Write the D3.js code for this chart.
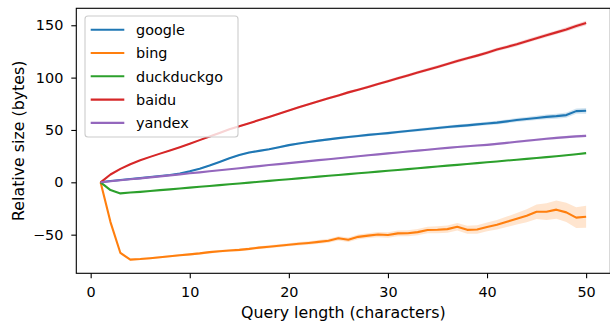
<!DOCTYPE html>
<html>
<head>
<meta charset="utf-8">
<script src="https://cdn.jsdelivr.net/npm/d3@7"></script>
<style>
  html, body { margin: 0; padding: 0; background: #fff; }
  svg { display: block; font-family: "DejaVu Sans", sans-serif; }
</style>
</head>
<body>
<svg id="chart" width="610" height="322"></svg>
<script>
const queryLength = d3.range(1, 51);
const seriesNames = ["google", "bing", "duckduckgo", "baidu", "yandex"];
const seriesColors = ["#1f77b4", "#ff7f0e", "#2ca02c", "#d62728", "#9467bd"];

const google = [0, 1.2, 2.2, 3.1, 4, 5, 6, 7, 8.3, 10.5, 13, 16, 19.5, 23, 26, 28.5, 30, 31.5, 33.5, 35.5,
  37, 38.5, 39.8, 41, 42.2, 43.3, 44.3, 45.3, 46.2, 47, 48, 49, 50, 50.9, 51.9, 52.8, 53.7, 54.4, 55.3, 56.2,
  57, 58.2, 59.5, 60.5, 61.5, 62.5, 63.2, 64.2, 68, 68.3];
const bing = [0, -38, -67.5, -73.8, -73.3, -72.5, -71.5, -70.6, -69.6, -68.8, -67.9, -66.7, -65.8, -65.1, -64.5, -63.6, -62.4, -61.5, -60.6, -59.6,
  -58.7, -57.9, -56.9, -55.8, -53.5, -54.9, -52.1, -50.9, -49.9, -50.3, -48.8, -48.6, -47.6, -45.6, -45.3, -44.7, -42.5, -45.4, -45.1, -42.6,
  -40.6, -37.7, -34.8, -31.9, -28.1, -28.1, -26.1, -28.7, -33.7, -32.9];
const duckduckgo = [0, -7.4, -10.6, -9.8, -9.1, -8.3, -7.5, -6.7, -5.9, -5.1, -4.3, -3.5, -2.7, -1.9, -1.1, -0.3, 0.5, 1.4, 2.2, 3.0,
  3.8, 4.6, 5.4, 6.2, 7.0, 7.8, 8.6, 9.4, 10.2, 11.0, 11.8, 12.6, 13.4, 14.3, 15.1, 15.9, 16.7, 17.5, 18.3, 19.1,
  19.9, 20.8, 21.6, 22.4, 23.2, 24.1, 24.9, 25.8, 26.8, 27.9];
const baidu = [0, 7.5, 12.8, 17.3, 21, 24.3, 27.4, 30.4, 33.6, 36.9, 40.3, 43.7, 47.2, 50.6, 53.6, 56.5, 59.4, 62.4, 65.5, 68.6,
  71.6, 74.5, 77.5, 80.3, 83.0, 85.9, 88.5, 91.1, 93.9, 96.6, 99.4, 102.1, 104.9, 107.6, 110.2, 113.0, 115.9, 118.4, 121.0, 123.8,
  126.8, 129.3, 131.8, 134.8, 137.7, 140.5, 143.2, 146.0, 149.2, 152.1];
const yandex = [0, 1, 2, 2.9, 3.8, 4.7, 5.7, 6.6, 7.6, 8.6, 9.5, 10.5, 11.5, 12.5, 13.5, 14.5, 15.5, 16.5, 17.4, 18.3,
  19.3, 20.2, 21.2, 22.1, 23.0, 24.0, 24.9, 25.8, 26.7, 27.6, 28.5, 29.4, 30.3, 31.1, 32.0, 32.9, 33.7, 34.4, 35.1, 35.8,
  36.7, 37.7, 38.7, 39.7, 40.6, 41.6, 42.4, 43.2, 43.9, 44.4];

// confidence band half-widths
const googleCI = [0, 0.3, 0.3, 0.3, 0.3, 0.4, 0.4, 0.4, 0.5, 0.5, 0.6, 0.7, 0.7, 0.8, 0.8, 0.9, 0.9, 0.9, 1, 1,
  1, 1, 1.1, 1.1, 1.1, 1.2, 1.2, 1.2, 1.2, 1.3, 1.3, 1.3, 1.4, 1.4, 1.4, 1.5, 1.5, 1.5, 1.6, 1.6,
  1.7, 1.8, 1.9, 2, 2.1, 2.3, 2.4, 2.5, 2.6, 2.7];
const bingCI = [0, 0.8, 0.9, 0.9, 1, 1, 1, 1, 1.1, 1.1, 1.1, 1.2, 1.2, 1.2, 1.3, 1.3, 1.4, 1.4, 1.5, 1.5,
  1.6, 1.7, 1.8, 1.9, 2, 2.1, 2.2, 2.3, 2.5, 2.6, 2.7, 2.8, 3, 3.1, 3.3, 3.4, 3.6, 3.8, 4, 4.2,
  4.5, 5, 5.5, 6.2, 7, 8, 8.8, 9.2, 10, 10.5];
const duckduckgoCI = [0, 0.2, 0.2, 0.2, 0.2, 0.2, 0.2, 0.2, 0.3, 0.3, 0.3, 0.3, 0.3, 0.3, 0.3, 0.3, 0.3, 0.3, 0.3, 0.3,
  0.3, 0.3, 0.3, 0.4, 0.4, 0.4, 0.4, 0.4, 0.4, 0.4, 0.4, 0.4, 0.4, 0.4, 0.5, 0.5, 0.5, 0.5, 0.5, 0.5,
  0.5, 0.5, 0.5, 0.5, 0.6, 0.6, 0.6, 0.6, 0.6, 0.6];
const baiduCI = [0, 0.4, 0.5, 0.5, 0.5, 0.6, 0.6, 0.6, 0.7, 0.7, 0.7, 0.8, 0.8, 0.8, 0.9, 0.9, 0.9, 1, 1, 1,
  1, 1.1, 1.1, 1.1, 1.2, 1.2, 1.2, 1.3, 1.3, 1.3, 1.4, 1.4, 1.4, 1.5, 1.5, 1.5, 1.6, 1.6, 1.6, 1.7,
  1.7, 1.7, 1.8, 1.8, 1.8, 1.9, 1.9, 2, 2, 2.1];
const yandexCI = [0, 0.2, 0.2, 0.3, 0.3, 0.3, 0.3, 0.4, 0.4, 0.4, 0.4, 0.5, 0.5, 0.5, 0.5, 0.6, 0.6, 0.6, 0.6, 0.6,
  0.7, 0.7, 0.7, 0.7, 0.7, 0.8, 0.8, 0.8, 0.8, 0.8, 0.8, 0.9, 0.9, 0.9, 0.9, 0.9, 0.9, 1, 1, 1,
  1, 1, 1.1, 1.1, 1.1, 1.1, 1.2, 1.2, 1.2, 1.2];

const xTicks = [0, 10, 20, 30, 40, 50];
const yTicks = [-50, 0, 50, 100, 150];
const xLabel = "Query length (characters)";
const yLabel = "Relative size (bytes)";

const seriesValues = [google, bing, duckduckgo, baidu, yandex];
const seriesCI = [googleCI, bingCI, duckduckgoCI, baiduCI, yandexCI];

const svg = d3.select("#chart");
const L = 76.3, R = 610.4, T = 8.3, B = 273.3;

const x = d3.scaleLinear().domain([-1.45, 52.45]).range([L, R]);
const y = d3.scaleLinear().domain([-86.9, 166.2]).range([B, T]);

const plot = svg.append("g");

seriesNames.forEach((name, i) => {
  const pts = queryLength.map((q, j) => ({ q, v: seriesValues[i][j], c: seriesCI[i][j] }));
  const area = d3.area().x(d => x(d.q)).y0(d => y(d.v - d.c)).y1(d => y(d.v + d.c));
  plot.append("path").attr("d", area(pts))
    .attr("fill", seriesColors[i]).attr("fill-opacity", 0.2).attr("stroke", "none");
});
seriesNames.forEach((name, i) => {
  const pts = queryLength.map((q, j) => ({ q, v: seriesValues[i][j] }));
  const line = d3.line().x(d => x(d.q)).y(d => y(d.v));
  plot.append("path").attr("d", line(pts))
    .attr("fill", "none").attr("stroke", seriesColors[i])
    .attr("stroke-width", 2.1).attr("stroke-linejoin", "round").attr("stroke-linecap", "butt");
});

// axes
const fmt = d => (d < 0 ? "\u2212" + Math.abs(d) : String(d));
const xAxis = d3.axisBottom(x).tickValues(xTicks).tickFormat(fmt).tickSize(5).tickPadding(8.5);
const yAxis = d3.axisLeft(y).tickValues(yTicks).tickFormat(fmt).tickSize(5).tickPadding(8);

const gx = svg.append("g").attr("transform", `translate(0,${B})`).call(xAxis);
const gy = svg.append("g").attr("transform", `translate(${L},0)`).call(yAxis);
[gx, gy].forEach(g => {
  g.select(".domain").remove();
  g.selectAll(".tick line").attr("stroke", "#000").attr("stroke-width", 1.1);
  g.selectAll(".tick text").attr("fill", "#000").style("font-size", "14.4px")
    .style("font-family", "'DejaVu Sans', sans-serif");
});

// spines
svg.append("rect").attr("x", L).attr("y", T).attr("width", R - L).attr("height", B - T)
  .attr("fill", "none").attr("stroke", "#000").attr("stroke-width", 1.1);

// axis labels
svg.append("text").attr("x", (L + R) / 2).attr("y", 318).attr("text-anchor", "middle")
  .style("font-size", "15.8px").text(xLabel);
svg.append("text").attr("transform", `translate(24,${(T + B) / 2}) rotate(-90)`)
  .attr("text-anchor", "middle").style("font-size", "15.8px").text(yLabel);

// legend
const lg = svg.append("g");
lg.append("rect").attr("x", 85).attr("y", 16).attr("width", 153).attr("height", 121)
  .attr("rx", 3).attr("ry", 3)
  .attr("fill", "#fff").attr("fill-opacity", 0.8).attr("stroke", "#cccccc").attr("stroke-width", 1.1);
seriesNames.forEach((name, i) => {
  const yy = 29.7 + i * 23.3;
  lg.append("line").attr("x1", 90.7).attr("x2", 124.3).attr("y1", yy).attr("y2", yy)
    .attr("stroke", seriesColors[i]).attr("stroke-width", 2.1);
  lg.append("text").attr("x", 136).attr("y", yy + 5.2).style("font-size", "14.4px").text(name);
});
</script>
</body>
</html>
